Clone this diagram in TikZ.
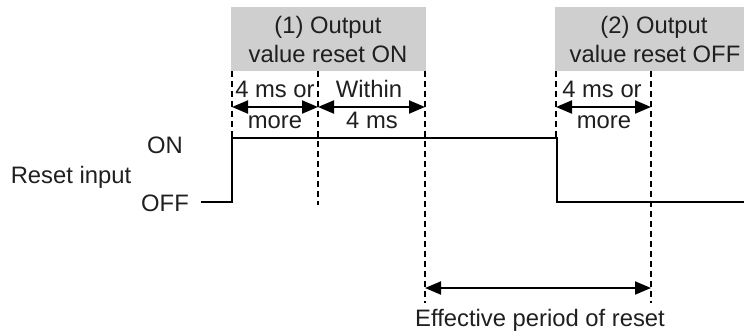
\documentclass[tikz,border=0pt]{standalone}
\usepackage{fontspec}
\setmainfont{Liberation Sans}
\usetikzlibrary{arrows.meta,calc}
\begin{document}
\begin{tikzpicture}[x=0.5pt,y=-0.5pt,
    txt/.style={anchor=base,inner sep=0pt,text=black!88,font=\fontsize{11.9}{14}\selectfont},
    guide/.style={draw,line width=0.75pt,dash pattern=on 3pt off 2pt},
    span/.style={draw,line width=1pt,{Stealth[length=8pt,width=6.5pt,inset=0pt]}-{Stealth[length=8pt,width=6.5pt,inset=0pt]}},
    signal/.style={draw,line width=1pt}]
    \useasboundingbox (0,0) rectangle (744,334);
    % boxes
    \path[fill=black!19] (231,7) rectangle (426,71);
    \path[fill=black!19] (555,7) rectangle (744,71);
    \node[txt] (on1) at (328,33) {(1) Output};
    \node[txt] (on2) at (328,62) {value reset ON};
    \node[txt] (off1) at (654,33) {(2) Output};
    \node[txt] (off2) at (655,62) {value reset OFF};
    % signal
    \coordinate (S0) at (201,202);
    \coordinate (S1) at (232,202);
    \coordinate (S2) at (232,138);
    \coordinate (S3) at (557,138);
    \coordinate (S4) at (557,202);
    \coordinate (S5) at (744,202);
    \path[signal] (S0)--(S1)--(S2)--(S3)--(S4)--(S5);
    \node[txt] (on) at (165,153) {ON};
    \node[txt] (off) at (165,211) {OFF};
    \node[txt] (reset) at (71,183) {Reset input};
    % guides
    \coordinate (G1) at (232,71);
    \coordinate (G2) at (318,71);
    \coordinate (G3) at (425,71);
    \coordinate (G4) at (556,71);
    \coordinate (G5) at (651,71);
    \coordinate (top) at (0,107);
    \coordinate (bot) at (0,288);
    \path[guide] (G1)--(S2);
    \path[guide] (G2)--++(0,134);
    \path[guide] (G3)--++(0,232);
    \path[guide] (G4)--(G4|-S3);
    \path[guide] (G5)--++(0,232);
    % periods
    \path[span] (G1|-top)--(G2|-top);
    \path[span] (G2|-top)--(G3|-top);
    \path[span] (G4|-top)--(G5|-top);
    \path[span] (G3|-bot)--(G5|-bot);
    \node[txt] (t1a) at (275,97) {4 ms or};
    \node[txt] (t1b) at (275,128) {more};
    \node[txt] (t2a) at (369,97) {Within};
    \node[txt] (t2b) at (372,128) {4 ms};
    \node[txt] (t3a) at (602,97) {4 ms or};
    \node[txt] (t3b) at (604,128) {more};
    \node[txt] (eff) at (540,326) {Effective period of reset};
\end{tikzpicture}
\end{document}
